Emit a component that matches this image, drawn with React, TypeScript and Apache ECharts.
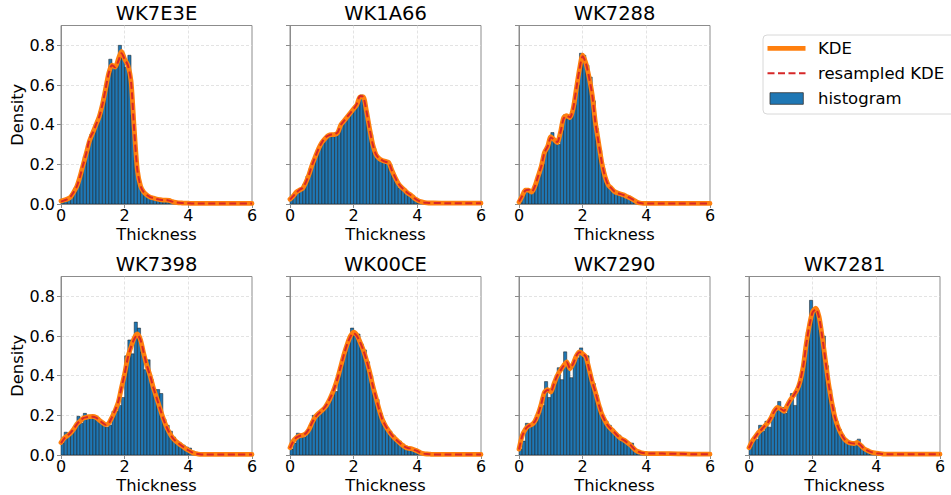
import React, { useEffect, useRef } from "react";
import * as echarts from "echarts";

// ---------- data ----------
const TITLES = ["WK7E3E", "WK1A66", "WK7288", "WK7398", "WK00CE", "WK7290", "WK7281"];
const X_TICKS = [0, 2, 4, 6];
const Y_TICKS = [0.0, 0.2, 0.4, 0.6, 0.8];
const BIN_START = 0;
const BIN_WIDTH = 0.1;

const KDE_X = [
  0, 0.1, 0.2, 0.3, 0.4, 0.5, 0.6, 0.7, 0.8, 0.9,
  1.0, 1.1, 1.2, 1.3, 1.4, 1.5, 1.6, 1.7, 1.8, 1.9,
  2.0, 2.1, 2.2, 2.3, 2.4, 2.5, 2.6, 2.7, 2.8, 2.9,
  3.0, 3.1, 3.2, 3.3, 3.4, 3.5, 3.6, 3.7, 3.8, 3.9,
  4.0, 4.1, 4.2, 4.3, 4.4, 4.5, 5.0, 5.5, 6.0,
];

const HIST_WK7E3E = [
  0.02, 0.02, 0.03, 0.05, 0.08, 0.11, 0.17, 0.24, 0.30, 0.35,
  0.38, 0.42, 0.47, 0.54, 0.62, 0.73, 0.69, 0.70, 0.80, 0.74,
  0.69, 0.75, 0.45, 0.22, 0.12, 0.07, 0.05, 0.04, 0.03, 0.03,
  0.02, 0.02, 0.02, 0.02, 0.015, 0.01, 0.01, 0.008, 0.006, 0.005,
  0.003, 0.003,
];
const KDE_WK7E3E = [
  0.015, 0.02, 0.025, 0.035, 0.06, 0.09, 0.14, 0.2, 0.26, 0.32,
  0.36, 0.4, 0.44, 0.5, 0.58, 0.66, 0.7, 0.69, 0.73, 0.77,
  0.73, 0.7, 0.62, 0.38, 0.17, 0.09, 0.06, 0.045, 0.035, 0.03,
  0.025, 0.022, 0.02, 0.02, 0.018, 0.012, 0.008, 0.006, 0.005, 0.004,
  0.004, 0.003, 0.003, 0.003, 0.003, 0.003, 0.003, 0.003, 0.003,
];
const RES_WK7E3E = [
  0.012, 0.018, 0.025, 0.037, 0.06, 0.09, 0.14, 0.2, 0.26, 0.33,
  0.36, 0.4, 0.44, 0.5, 0.58, 0.66, 0.7, 0.69, 0.72, 0.76,
  0.73, 0.7, 0.62, 0.37, 0.17, 0.09, 0.06, 0.045, 0.035, 0.03,
  0.025, 0.022, 0.02, 0.02, 0.017, 0.012, 0.008, 0.006, 0.005, 0.004,
  0.004, 0.003, 0.003, 0.003, 0.003, 0.003, 0.003, 0.003, 0.003,
];

const HIST_WK1A66 = [
  0.03, 0.05, 0.07, 0.08, 0.10, 0.14, 0.18, 0.22, 0.26, 0.29,
  0.31, 0.34, 0.34, 0.34, 0.36, 0.38, 0.41, 0.42, 0.45, 0.47,
  0.49, 0.52, 0.55, 0.50, 0.42, 0.35, 0.28, 0.24, 0.22, 0.21,
  0.21, 0.20, 0.15, 0.12, 0.08, 0.08, 0.06, 0.05, 0.04, 0.03,
  0.015, 0.008, 0.004,
];
const KDE_WK1A66 = [
  0.024, 0.04, 0.06, 0.07, 0.08, 0.11, 0.15, 0.2, 0.24, 0.28,
  0.31, 0.33, 0.345, 0.35, 0.35, 0.36, 0.4, 0.42, 0.44, 0.46,
  0.48, 0.5, 0.54, 0.54, 0.47, 0.38, 0.3, 0.25, 0.23, 0.22,
  0.215, 0.21, 0.17, 0.135, 0.105, 0.085, 0.07, 0.055, 0.045, 0.03,
  0.02, 0.012, 0.008, 0.006, 0.005, 0.005, 0.004, 0.004, 0.004,
];
const RES_WK1A66 = [
  0.022, 0.04, 0.058, 0.072, 0.082, 0.11, 0.15, 0.2, 0.24, 0.28,
  0.31, 0.335, 0.345, 0.35, 0.352, 0.362, 0.4, 0.42, 0.44, 0.46,
  0.48, 0.505, 0.545, 0.54, 0.47, 0.38, 0.3, 0.25, 0.23, 0.22,
  0.213, 0.208, 0.17, 0.135, 0.105, 0.085, 0.07, 0.055, 0.044, 0.03,
  0.02, 0.012, 0.008, 0.006, 0.005, 0.005, 0.004, 0.004, 0.004,
];

const HIST_WK7288 = [
  0.01, 0.05, 0.07, 0.06, 0.06, 0.10, 0.15, 0.20, 0.27, 0.30,
  0.36, 0.32, 0.30, 0.37, 0.45, 0.43, 0.44, 0.50, 0.60, 0.76,
  0.75, 0.70, 0.64, 0.52, 0.38, 0.27, 0.18, 0.12, 0.09, 0.07,
  0.06, 0.05, 0.05, 0.04, 0.04, 0.03, 0.01, 0.005,
];
const KDE_WK7288 = [
  0.01, 0.04, 0.07, 0.07, 0.06, 0.09, 0.14, 0.19, 0.26, 0.29,
  0.34, 0.325, 0.31, 0.36, 0.435, 0.445, 0.435, 0.48, 0.58, 0.68,
  0.75, 0.71, 0.64, 0.55, 0.41, 0.31, 0.21, 0.14, 0.097, 0.08,
  0.063, 0.055, 0.05, 0.045, 0.037, 0.03, 0.02, 0.01, 0.005, 0.003,
  0.003, 0.003, 0.003, 0.003, 0.003, 0.003, 0.003, 0.003, 0.003,
];
const RES_WK7288 = [
  0.012, 0.04, 0.068, 0.072, 0.062, 0.09, 0.14, 0.19, 0.26, 0.29,
  0.335, 0.325, 0.312, 0.36, 0.43, 0.445, 0.437, 0.48, 0.58, 0.68,
  0.745, 0.71, 0.64, 0.55, 0.41, 0.31, 0.21, 0.14, 0.097, 0.08,
  0.063, 0.055, 0.05, 0.044, 0.037, 0.03, 0.02, 0.01, 0.005, 0.003,
  0.003, 0.003, 0.003, 0.003, 0.003, 0.003, 0.003, 0.003, 0.003,
];

const HIST_WK7398 = [
  0.06, 0.115, 0.11, 0.11, 0.14, 0.195, 0.16, 0.21, 0.20, 0.19,
  0.19, 0.19, 0.17, 0.15, 0.14, 0.15, 0.22, 0.22, 0.25, 0.29,
  0.50, 0.58, 0.51, 0.67, 0.64, 0.52, 0.43, 0.48, 0.38, 0.33,
  0.33, 0.31, 0.18, 0.15, 0.12, 0.09, 0.07, 0.06, 0.05, 0.04,
  0.035, 0.02, 0.01, 0.005,
];
const KDE_WK7398 = [
  0.063, 0.085, 0.097, 0.11, 0.13, 0.156, 0.17, 0.185, 0.19, 0.193,
  0.195, 0.19, 0.176, 0.164, 0.153, 0.16, 0.19, 0.224, 0.266, 0.34,
  0.41, 0.495, 0.545, 0.59, 0.61, 0.58, 0.51, 0.45, 0.4, 0.34,
  0.29, 0.24, 0.19, 0.147, 0.114, 0.088, 0.071, 0.058, 0.046, 0.034,
  0.024, 0.015, 0.008, 0.005, 0.003, 0.003, 0.003, 0.003, 0.003,
];
const RES_WK7398 = [
  0.06, 0.083, 0.097, 0.112, 0.132, 0.156, 0.172, 0.186, 0.19, 0.192,
  0.193, 0.188, 0.176, 0.163, 0.152, 0.16, 0.19, 0.226, 0.27, 0.34,
  0.41, 0.49, 0.545, 0.585, 0.605, 0.58, 0.515, 0.45, 0.4, 0.34,
  0.29, 0.24, 0.19, 0.147, 0.114, 0.088, 0.071, 0.058, 0.046, 0.034,
  0.024, 0.015, 0.008, 0.005, 0.003, 0.003, 0.003, 0.003, 0.003,
];

const HIST_WK00CE = [
  0.03, 0.06, 0.11, 0.10, 0.09, 0.11, 0.14, 0.20, 0.20, 0.21,
  0.22, 0.24, 0.27, 0.32, 0.32, 0.41, 0.47, 0.52, 0.58, 0.64,
  0.61, 0.61, 0.56, 0.53, 0.47, 0.40, 0.31, 0.28, 0.21, 0.17,
  0.14, 0.12, 0.10, 0.08, 0.07, 0.055, 0.045, 0.035, 0.035, 0.03,
  0.02, 0.01, 0.005,
];
const KDE_WK00CE = [
  0.037, 0.07, 0.088, 0.097, 0.1, 0.108, 0.13, 0.165, 0.193, 0.21,
  0.224, 0.24, 0.266, 0.3, 0.34, 0.39, 0.45, 0.51, 0.56, 0.6,
  0.62, 0.605, 0.57, 0.53, 0.48, 0.42, 0.35, 0.29, 0.23, 0.18,
  0.147, 0.122, 0.1, 0.083, 0.068, 0.054, 0.042, 0.034, 0.032, 0.027,
  0.02, 0.012, 0.007, 0.005, 0.004, 0.003, 0.003, 0.003, 0.003,
];
const RES_WK00CE = [
  0.035, 0.068, 0.088, 0.096, 0.1, 0.11, 0.132, 0.165, 0.192, 0.21,
  0.224, 0.242, 0.268, 0.3, 0.34, 0.39, 0.45, 0.51, 0.56, 0.598,
  0.615, 0.6, 0.57, 0.53, 0.48, 0.42, 0.35, 0.29, 0.23, 0.18,
  0.147, 0.122, 0.1, 0.083, 0.068, 0.054, 0.042, 0.035, 0.032, 0.026,
  0.02, 0.012, 0.007, 0.005, 0.004, 0.003, 0.003, 0.003, 0.003,
];

const HIST_WK7290 = [
  0.03, 0.07, 0.16, 0.15, 0.15, 0.17, 0.21, 0.25, 0.37, 0.29,
  0.33, 0.38, 0.44, 0.38, 0.52, 0.45, 0.39, 0.47, 0.49, 0.54,
  0.50, 0.50, 0.40, 0.36, 0.30, 0.24, 0.19, 0.17, 0.15, 0.13,
  0.11, 0.10, 0.08, 0.07, 0.06, 0.06, 0.03, 0.015, 0.01, 0.008,
  0.007, 0.007, 0.007, 0.007, 0.007,
];
const KDE_WK7290 = [
  0.03, 0.097, 0.13, 0.147, 0.153, 0.17, 0.207, 0.258, 0.317, 0.33,
  0.317, 0.36, 0.4, 0.427, 0.45, 0.47, 0.435, 0.46, 0.5, 0.52,
  0.51, 0.495, 0.435, 0.37, 0.317, 0.258, 0.207, 0.173, 0.147, 0.13,
  0.114, 0.097, 0.083, 0.075, 0.063, 0.05, 0.034, 0.02, 0.014, 0.01,
  0.008, 0.007, 0.007, 0.007, 0.007, 0.007, 0.006, 0.004, 0.004,
];
const RES_WK7290 = [
  0.028, 0.095, 0.13, 0.146, 0.154, 0.17, 0.206, 0.258, 0.315, 0.328,
  0.32, 0.36, 0.4, 0.425, 0.45, 0.468, 0.438, 0.46, 0.5, 0.518,
  0.512, 0.495, 0.435, 0.37, 0.317, 0.258, 0.207, 0.173, 0.147, 0.13,
  0.114, 0.097, 0.083, 0.075, 0.063, 0.05, 0.034, 0.02, 0.014, 0.01,
  0.008, 0.007, 0.007, 0.007, 0.007, 0.007, 0.006, 0.004, 0.004,
];

const HIST_WK7281 = [
  0.04, 0.08, 0.08, 0.15, 0.12, 0.17, 0.14, 0.19, 0.22, 0.27,
  0.24, 0.21, 0.26, 0.31, 0.25, 0.33, 0.40, 0.50, 0.62, 0.78,
  0.73, 0.73, 0.63, 0.60, 0.45, 0.33, 0.24, 0.17, 0.13, 0.10,
  0.08, 0.06, 0.06, 0.06, 0.08, 0.05, 0.03, 0.02, 0.015, 0.01,
  0.008, 0.005,
];
const KDE_WK7281 = [
  0.037, 0.07, 0.093, 0.114, 0.13, 0.147, 0.164, 0.19, 0.224, 0.24,
  0.232, 0.22, 0.25, 0.278, 0.3, 0.325, 0.368, 0.444, 0.563, 0.656,
  0.724, 0.74, 0.698, 0.597, 0.478, 0.36, 0.266, 0.19, 0.14, 0.105,
  0.08, 0.066, 0.06, 0.058, 0.063, 0.05, 0.034, 0.024, 0.017, 0.012,
  0.009, 0.007, 0.005, 0.004, 0.004, 0.004, 0.004, 0.004, 0.004,
];
const RES_WK7281 = [
  0.035, 0.068, 0.092, 0.113, 0.13, 0.148, 0.165, 0.19, 0.222, 0.238,
  0.233, 0.222, 0.25, 0.277, 0.3, 0.326, 0.37, 0.444, 0.56, 0.655,
  0.72, 0.735, 0.695, 0.597, 0.478, 0.36, 0.266, 0.19, 0.14, 0.105,
  0.08, 0.066, 0.06, 0.058, 0.062, 0.05, 0.034, 0.024, 0.017, 0.012,
  0.009, 0.007, 0.005, 0.004, 0.004, 0.004, 0.004, 0.004, 0.004,
];

const HISTS = [HIST_WK7E3E, HIST_WK1A66, HIST_WK7288, HIST_WK7398, HIST_WK00CE, HIST_WK7290, HIST_WK7281];
const KDES = [KDE_WK7E3E, KDE_WK1A66, KDE_WK7288, KDE_WK7398, KDE_WK00CE, KDE_WK7290, KDE_WK7281];
const RESAMPLED = [RES_WK7E3E, RES_WK1A66, RES_WK7288, RES_WK7398, RES_WK00CE, RES_WK7290, RES_WK7281];
const LEGEND_LABELS = ["KDE", "resampled KDE", "histogram"];

// ---------- layout ----------
const W = 951;
const H = 495;
const COL_LEFT = [61, 290, 519, 749];
const ROW_TOP = [25.5, 276.5];
const GRID_W = 191;
const GRID_H = 178.5;
const PANEL_POS = [
  [0, 0], [0, 1], [0, 2],
  [1, 0], [1, 1], [1, 2], [1, 3],
];
const FONT = "DejaVu Sans";
const C_HIST = "#1f77b4";
const C_KDE = "#ff7f0e";
const C_RES = "#d62728";
const C_SPINE = "#8c8c8c";

export default function App() {
  const ref = useRef<HTMLDivElement>(null);

  useEffect(() => {
    if (!ref.current) return;
    const chart = echarts.init(ref.current, undefined, { renderer: "svg", width: W, height: H });

    const grids: any[] = [];
    const xAxes: any[] = [];
    const yAxes: any[] = [];
    const titles: any[] = [];
    const series: any[] = [];

    PANEL_POS.forEach(([r, c], p) => {
      const left = COL_LEFT[c];
      const top = ROW_TOP[r];
      grids.push({
        left, top, width: GRID_W, height: GRID_H,
        show: true, borderColor: C_SPINE, borderWidth: 1, backgroundColor: "transparent",
      });
      titles.push({
        text: TITLES[p],
        left: left + GRID_W / 2,
        top: top - 22,
        textAlign: "center",
        padding: 0,
        textStyle: { fontFamily: FONT, fontSize: 19.5, fontWeight: "normal", color: "#000", lineHeight: 20 },
      });
      xAxes.push({
        gridIndex: p,
        type: "value",
        min: X_TICKS[0],
        max: X_TICKS[X_TICKS.length - 1],
        interval: X_TICKS[1] - X_TICKS[0],
        name: "Thickness",
        nameLocation: "middle",
        nameGap: 23.5,
        nameTextStyle: { fontFamily: FONT, fontSize: 16.3, color: "#000", verticalAlign: "top", lineHeight: 14 },
        axisLine: { show: true, lineStyle: { color: C_SPINE, width: 1 } },
        axisTick: { show: true, length: 4, inside: false, lineStyle: { color: C_SPINE } },
        axisLabel: { fontFamily: FONT, fontSize: 16, color: "#000", margin: 4, lineHeight: 14 },
        splitLine: {
          show: true, showMinLine: false, showMaxLine: false,
          lineStyle: { color: "#dcdcdc", type: [3, 2], width: 0.8 },
        },
      });
      yAxes.push({
        gridIndex: p,
        type: "value",
        min: Y_TICKS[0],
        max: 0.9,
        interval: Y_TICKS[1] - Y_TICKS[0],
        name: c === 0 ? "Density" : "",
        nameLocation: "middle",
        nameGap: 31,
        nameTextStyle: { fontFamily: FONT, fontSize: 16.3, color: "#000" },
        axisLine: { show: true, lineStyle: { color: C_SPINE, width: 1 } },
        axisTick: { show: true, length: 4, inside: false, lineStyle: { color: C_SPINE } },
        axisLabel: {
          show: c === 0,
          showMaxLabel: false,
          fontFamily: FONT, fontSize: 16, color: "#000", margin: 6,
          formatter: (v: number) => v.toFixed(1),
        },
        splitLine: {
          show: true, showMinLine: false, showMaxLine: false,
          lineStyle: { color: "#dcdcdc", type: [3, 2], width: 0.8 },
        },
      });

      series.push({
        name: "histogram",
        type: "custom",
        xAxisIndex: p,
        yAxisIndex: p,
        clip: true,
        z: 1,
        data: HISTS[p].map((h, i) => [BIN_START + i * BIN_WIDTH, BIN_START + (i + 1) * BIN_WIDTH, h]),
        encode: { x: [0, 1], y: 2 },
        renderItem: (_params: any, api: any) => {
          const a = api.coord([api.value(0), api.value(2)]);
          const b = api.coord([api.value(1), 0]);
          return {
            type: "rect",
            shape: { x: a[0], y: a[1], width: b[0] - a[0], height: b[1] - a[1] },
            style: { fill: C_HIST, stroke: "#1a1a1a", lineWidth: 0.5 },
          };
        },
      });
      series.push({
        name: "KDE",
        type: "line",
        xAxisIndex: p,
        yAxisIndex: p,
        z: 2,
        symbol: "none",
        smooth: 0.25,
        data: KDE_X.map((x, i) => [x, KDES[p][i]]),
        lineStyle: { color: C_KDE, width: 4.8, cap: "round", join: "round" },
      });
      series.push({
        name: "resampled KDE",
        type: "line",
        xAxisIndex: p,
        yAxisIndex: p,
        z: 3,
        symbol: "none",
        smooth: 0.25,
        data: KDE_X.map((x, i) => [x, RESAMPLED[p][i]]),
        lineStyle: { color: C_RES, width: 2, type: [7, 3.5] },
      });
    });

    const LX = 763;
    const LY = 35;
    const graphic: any[] = [
      {
        type: "rect",
        shape: { x: LX, y: LY, width: 200, height: 79, r: 4 },
        style: { fill: "#fff", stroke: "#d8d8d8", lineWidth: 1 },
        z: 10,
      },
      {
        type: "line",
        shape: { x1: 767.5, y1: 48.3, x2: 805.5, y2: 48.3 },
        style: { stroke: C_KDE, lineWidth: 4.8 },
        z: 11,
      },
      {
        type: "line",
        shape: { x1: 767.5, y1: 73.3, x2: 805.5, y2: 73.3 },
        style: { stroke: C_RES, lineWidth: 2, lineDash: [7, 3.5] },
        z: 11,
      },
      {
        type: "rect",
        shape: { x: 770, y: 92.7, width: 33.3, height: 11.6 },
        style: { fill: C_HIST, stroke: "#333", lineWidth: 0.8 },
        z: 11,
      },
    ];
    LEGEND_LABELS.forEach((t, i) => {
      graphic.push({
        type: "text",
        x: 818,
        y: 48.3 + i * 25,
        z: 11,
        style: { text: t, fontFamily: FONT, fontSize: 16.5, fill: "#000", verticalAlign: "middle", align: "left" },
      });
    });

    chart.setOption({
      animation: false,
      backgroundColor: "#fff",
      title: titles,
      grid: grids,
      xAxis: xAxes,
      yAxis: yAxes,
      series,
      graphic,
    });

    return () => chart.dispose();
  }, []);

  return <div ref={ref} style={{ position: "fixed", left: 0, top: 0, width: W, height: H }} />;
}
